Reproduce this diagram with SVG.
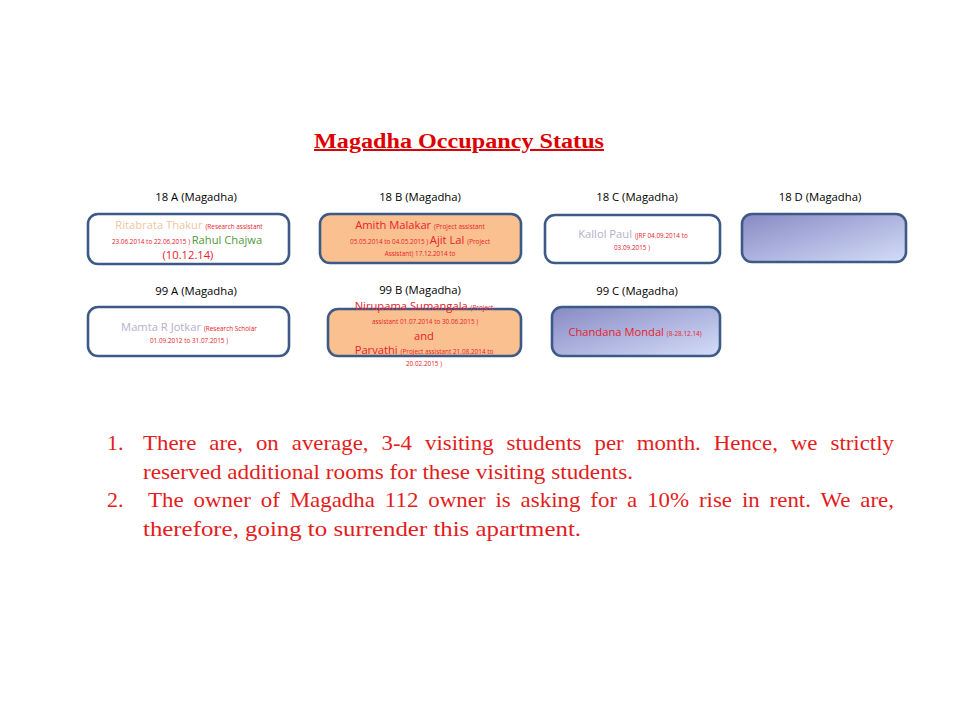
<svg xmlns="http://www.w3.org/2000/svg" width="960" height="720" viewBox="0 0 960 720">
<defs>
<linearGradient id="blueGrad" x1="0" y1="0" x2="1" y2="1">
<stop offset="0" stop-color="#878ac4"/>
<stop offset="1" stop-color="#d4ddf8"/>
</linearGradient>
<style>
.box{stroke:#3d5a86;stroke-width:2.6}
.white{fill:#ffffff}
.orange{fill:#fac090}
.blue{fill:url(#blueGrad)}
.lbl{font-family:"Open Sans","Liberation Sans",sans-serif;font-size:11.3px;fill:#000000;text-anchor:middle}
.bt{font-family:"Open Sans","Liberation Sans",sans-serif;text-anchor:middle}
.big{font-size:11.2px}
.tiny{font-size:6.4px;fill:#e8202a}
.red{fill:#e8202a}
.peach{fill:#f2c6a0}
.green{fill:#4e9a3c}
.lav{fill:#b7afc9}
.body{font-family:"Liberation Serif",serif;font-size:22px;fill:#e31c1c}
.title{font-family:"Liberation Serif",serif;font-size:20px;font-weight:bold;fill:#dd0000;text-anchor:middle;text-decoration:underline}
</style>
</defs>
<rect width="960" height="720" fill="#ffffff"/>
<text class="title" x="459" y="148" textLength="290" lengthAdjust="spacingAndGlyphs">Magadha Occupancy Status</text>

<g id="labels">
<text class="lbl" x="196" y="201">18 A (Magadha)</text>
<text class="lbl" x="420" y="201">18 B (Magadha)</text>
<text class="lbl" x="637" y="201">18 C (Magadha)</text>
<text class="lbl" x="820" y="201">18 D (Magadha)</text>
<text class="lbl" x="196" y="295">99 A (Magadha)</text>
<text class="lbl" x="420" y="294">99 B (Magadha)</text>
<text class="lbl" x="637" y="295">99 C (Magadha)</text>
</g>

<g id="connectors"></g>

<g id="node-18A">
<rect class="box white" x="88" y="214" width="201" height="50" rx="10"/>
<text class="bt" x="189" y="229"><tspan class="big peach">Ritabrata  Thakur </tspan><tspan class="tiny">(Research assistant</tspan></text>
<text class="bt" x="187" y="244"><tspan class="tiny">23.06.2014 to 22.06.2015 ) </tspan><tspan class="big green">Rahul Chajwa</tspan></text>
<text class="bt" x="188" y="259"><tspan class="big red">(10.12.14)</tspan></text>
</g>

<g id="node-18B">
<rect class="box orange" x="320" y="214" width="201" height="49" rx="10"/>
<text class="bt" x="420" y="229"><tspan class="big red">Amith  Malakar </tspan><tspan class="tiny">(Project assistant</tspan></text>
<text class="bt" x="420" y="244"><tspan class="tiny">05.05.2014 to 04.05.2015 ) </tspan><tspan class="big red">Ajit Lal </tspan><tspan class="tiny">(Project</tspan></text>
<text class="bt" x="420" y="256"><tspan class="tiny">Assistant) 17.12.2014 to</tspan></text>
</g>

<g id="node-18C">
<rect class="box white" x="545" y="215" width="175" height="48" rx="10"/>
<text class="bt" x="633" y="238"><tspan class="big lav">Kallol Paul </tspan><tspan class="tiny">(JRF 04.09.2014 to</tspan></text>
<text class="bt" x="632" y="250"><tspan class="tiny">03.09.2015 )</tspan></text>
</g>

<g id="node-18D">
<rect class="box blue" x="742" y="214" width="164" height="48" rx="10"/>
</g>

<g id="node-99A">
<rect class="box white" x="88" y="307" width="201" height="49" rx="10"/>
<text class="bt" x="189" y="331"><tspan class="big lav">Mamta  R Jotkar </tspan><tspan class="tiny">(Research Scholar</tspan></text>
<text class="bt" x="189" y="343"><tspan class="tiny">01.09.2012 to 31.07.2015 )</tspan></text>
</g>

<g id="node-99B">
<rect class="box orange" x="328" y="309" width="193" height="47" rx="10"/>
<text class="bt" x="424" y="310"><tspan class="big red">Nirupama  Sumangala </tspan><tspan class="tiny">(Project</tspan></text>
<text class="bt" x="425" y="324"><tspan class="tiny">assistant 01.07.2014  to 30.06.2015 )</tspan></text>
<text class="bt" x="424" y="340"><tspan class="big red">and</tspan></text>
<text class="bt" x="424" y="354"><tspan class="big red">Parvathi </tspan><tspan class="tiny">(Project assistant 21.08.2014 to</tspan></text>
<text class="bt" x="424" y="366"><tspan class="tiny">20.02.2015 )</tspan></text>
</g>

<g id="node-99C">
<rect class="box blue" x="552" y="307" width="168" height="49" rx="10"/>
<text class="bt" x="635" y="336"><tspan class="big red">Chandana Mondal </tspan><tspan class="tiny">(8-28.12.14)</tspan></text>
</g>

<g id="notes">
<text class="body" x="107" y="450">1.</text>
<text class="body" x="143" y="450" word-spacing="7" textLength="751" lengthAdjust="spacingAndGlyphs">There are, on average, 3-4 visiting students per month. Hence, we strictly</text>
<text class="body" x="143" y="479" textLength="490" lengthAdjust="spacingAndGlyphs">reserved additional rooms for these visiting students.</text>
<text class="body" x="107" y="507">2.</text>
<text class="body" x="148" y="507" word-spacing="4" textLength="746" lengthAdjust="spacingAndGlyphs">The owner of  Magadha 112 owner is asking for a 10% rise in rent. We are,</text>
<text class="body" x="143" y="536" textLength="438" lengthAdjust="spacingAndGlyphs">therefore, going to surrender this apartment.</text>
</g>
</svg>
